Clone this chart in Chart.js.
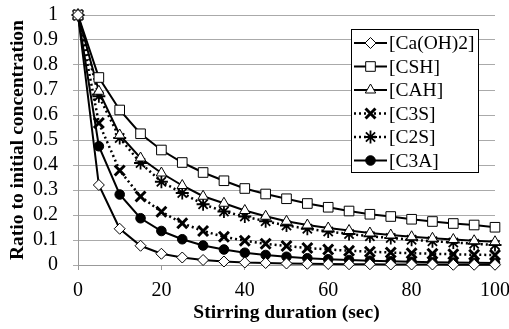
<!DOCTYPE html>
<html>
<head>
<meta charset="utf-8">
<script src="https://cdn.jsdelivr.net/npm/chart.js@4/dist/chart.umd.min.js"></script>
<style>
  html, body { margin: 0; padding: 0; background: #fff; }
  #wrap { width: 509px; height: 329px; }
</style>
</head>
<body>
<div id="wrap"><canvas id="chart" width="509" height="329"></canvas></div>
<script>
// Datos (cada 5 segundos)
const seconds = [0, 5, 10, 15, 20, 25, 30, 35, 40, 45, 50, 55, 60, 65, 70, 75, 80, 85, 90, 95, 100];
const caOH2 = [1, 0.32, 0.145, 0.077, 0.045, 0.03, 0.02, 0.014, 0.01, 0.008, 0.006, 0.005, 0.004, 0.003, 0.003, 0.002, 0.002, 0.002, 0.001, 0.001, 0.001];
const csh = [1, 0.75, 0.62, 0.525, 0.46, 0.41, 0.37, 0.337, 0.306, 0.284, 0.265, 0.246, 0.231, 0.216, 0.203, 0.194, 0.183, 0.174, 0.166, 0.16, 0.151];
const cah = [1, 0.695, 0.52, 0.428, 0.368, 0.318, 0.275, 0.247, 0.218, 0.195, 0.175, 0.16, 0.148, 0.138, 0.128, 0.12, 0.113, 0.107, 0.102, 0.097, 0.093];
const c3s = [1, 0.568, 0.378, 0.274, 0.213, 0.167, 0.136, 0.113, 0.097, 0.085, 0.076, 0.068, 0.062, 0.057, 0.053, 0.05, 0.047, 0.045, 0.043, 0.041, 0.04];
const c2s = [1, 0.675, 0.508, 0.408, 0.333, 0.288, 0.243, 0.214, 0.194, 0.175, 0.158, 0.145, 0.134, 0.124, 0.115, 0.108, 0.101, 0.095, 0.09, 0.085, 0.08];
const c3a = [1, 0.475, 0.282, 0.187, 0.136, 0.103, 0.078, 0.062, 0.049, 0.04, 0.033, 0.027, 0.023, 0.02, 0.017, 0.015, 0.013, 0.011, 0.01, 0.009, 0.008];
const seriesNames = ['[Ca(OH)2]', '[CSH]', '[CAH]', '[C3S]', '[C2S]', '[C3A]'];
const xTicks = [0, 20, 40, 60, 80, 100];
const yTicks = [0, 0.1, 0.2, 0.3, 0.4, 0.5, 0.6, 0.7, 0.8, 0.9, 1];
const yTickLabels = ['0', '0.1', '0.2', '0.3', '0.4', '0.5', '0.6', '0.7', '0.8', '0.9', '1'];

const serif = "'Liberation Serif', 'Times New Roman', serif";

function toPoints(values) {
  return values.map((v, i) => ({ x: seconds[i], y: v }));
}

function serie(label, values, style, radius, fill, dashed, markWidth) {
  return {
    label: label,
    data: toPoints(values),
    borderColor: '#000',
    borderWidth: dashed ? 2.5 : 2,
    borderDash: dashed ? [2, 3] : [],
    pointStyle: style,
    pointRadius: radius,
    pointBorderWidth: markWidth,
    pointBorderColor: '#000',
    pointBackgroundColor: fill,
    tension: 0,
    clip: false
  };
}

// Leyenda dibujada dentro del area del grafico
const boxLegend = {
  id: 'boxLegend',
  afterDraw(chart) {
    const ctx = chart.ctx;
    const x0 = 351, y0 = 29, w = 127, h = 143;
    ctx.save();
    ctx.fillStyle = '#fff';
    ctx.fillRect(x0, y0, w, h);
    ctx.strokeStyle = '#000';
    ctx.lineWidth = 1;
    ctx.strokeRect(x0 + 0.5, y0 + 0.5, w, h);
    chart.data.datasets.forEach((ds, i) => {
      const y = 43 + i * 23.5;
      ctx.strokeStyle = '#000';
      ctx.lineWidth = ds.borderWidth;
      ctx.setLineDash(ds.borderDash);
      ctx.beginPath();
      ctx.moveTo(354, y);
      ctx.lineTo(387, y);
      ctx.stroke();
      ctx.setLineDash([]);
      ctx.fillStyle = ds.pointBackgroundColor;
      ctx.lineWidth = ds.pointBorderWidth;
      Chart.helpers.drawPoint(ctx, {
        pointStyle: ds.pointStyle,
        radius: ds.pointRadius,
        rotation: 0,
        borderWidth: ds.pointBorderWidth
      }, 370.5, y);
      ctx.fillStyle = '#000';
      ctx.font = '19.5px ' + serif;
      ctx.textBaseline = 'middle';
      ctx.fillText(ds.label, 389, y + 1);
    });
    ctx.restore();
  }
};

const ctx = document.getElementById('chart').getContext('2d');

new Chart(ctx, {
  type: 'line',
  data: {
    datasets: [
      serie(seriesNames[0], caOH2, 'rectRot', 5.5, '#fff', false, 1),
      serie(seriesNames[1], csh, 'rect', 6.8, '#fff', false, 1),
      serie(seriesNames[2], cah, 'triangle', 6, '#fff', false, 1),
      serie(seriesNames[3], c3s, 'crossRot', 7, '#000', true, 3),
      serie(seriesNames[4], c2s, 'star', 6.5, '#000', true, 1.8),
      serie(seriesNames[5], c3a, 'circle', 4.8, '#000', false, 1)
    ]
  },
  options: {
    responsive: false,
    animation: false,
    layout: { padding: { top: 15, right: 14, left: 0, bottom: 0 } },
    plugins: {
      legend: { display: false },
      tooltip: { enabled: false }
    },
    scales: {
      x: {
        type: 'linear',
        min: 0,
        max: 100,
        afterBuildTicks(scale) { scale.ticks = xTicks.map(v => ({ value: v })); },
        afterFit(scale) {
          scale.height = 64;
          scale.paddingLeft = 0;
          scale.paddingRight = 0;
        },
        grid: { drawOnChartArea: false, drawTicks: true, tickLength: 5, color: '#999' },
        border: { color: '#999' },
        ticks: { color: '#000', font: { family: serif, size: 20 }, padding: 9, autoSkip: false, maxRotation: 0 },
        title: {
          display: true,
          text: 'Stirring duration (sec)',
          color: '#000',
          font: { family: serif, size: 19.5, weight: 'bold' },
          padding: { top: 0, bottom: 4 }
        }
      },
      y: {
        min: 0,
        max: 1,
        afterBuildTicks(scale) { scale.ticks = yTicks.map(v => ({ value: v })); },
        afterFit(scale) {
          scale.width = 78;
          scale.paddingTop = 0;
          scale.paddingBottom = 0;
        },
        grid: { color: '#aaa', tickLength: 5 },
        border: { color: '#999' },
        ticks: {
          color: '#000',
          font: { family: serif, size: 20 },
          padding: 15,
          autoSkip: false,
          callback: (value) => yTickLabels[yTicks.indexOf(value)]
        },
        title: {
          display: true,
          text: 'Ratio to initial concentration',
          color: '#000',
          font: { family: serif, size: 19.5, weight: 'bold' },
          padding: { top: 6, bottom: 0 }
        }
      }
    }
  },
  plugins: [boxLegend]
});
</script>
</body>
</html>
